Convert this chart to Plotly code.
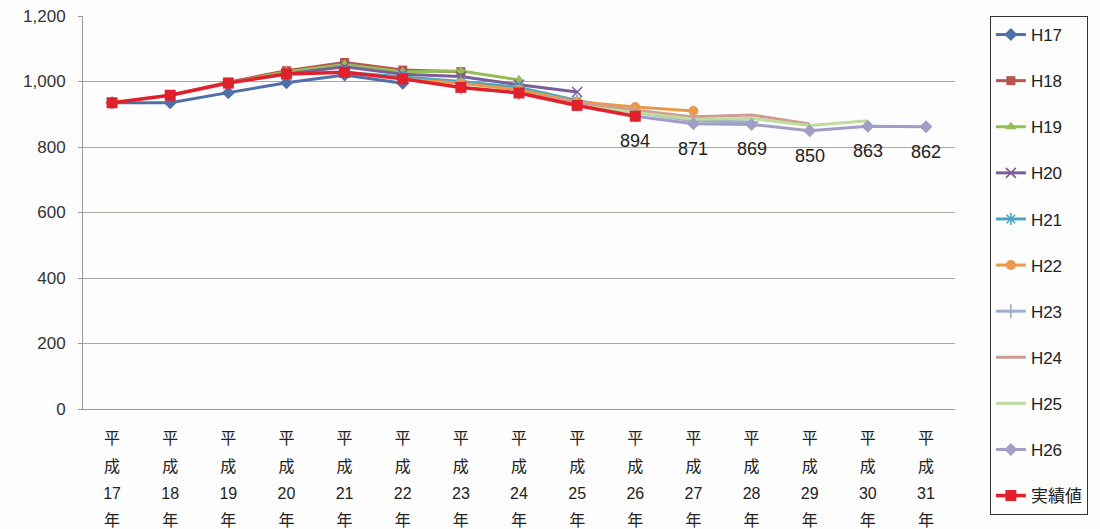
import plotly.graph_objects as go

# 平成17年〜31年 の区分
year_nums = ["17", "18", "19", "20", "21", "22", "23", "24", "25", "26", "27", "28", "29", "30", "31"]
categories = [f"平成{y}年" for y in year_nums]
tick_text = [
    "<span style='font-size:16px'>平</span><br><span style='font-size:16px'>成</span><br>"
    f"<span style='font-size:16px'>{y}</span><br><span style='font-size:16px'>年</span>"
    for y in year_nums
]

# 各年度の推計値（None は推計対象外）
h17 = [935, 935, 966, 996, 1020, 995, None, None, None, None, None, None, None, None, None]
h18 = [None, 958, 998, 1033, 1058, 1035, 1030, None, None, None, None, None, None, None, None]
h19 = [None, None, 995, 1030, 1052, 1030, 1032, 1005, None, None, None, None, None, None, None]
h20 = [None, None, None, 1023, 1045, 1022, 1015, 990, 968, None, None, None, None, None, None]
h21 = [None, None, None, None, 1028, 1015, 1000, 982, 942, 910, None, None, None, None, None]
h22 = [None, None, None, None, None, 1008, 995, 975, 938, 922, 910, None, None, None, None]
h23 = [None, None, None, None, None, None, 982, 965, 935, 905, 880, 876, None, None, None]
h24 = [None, None, None, None, None, None, None, 965, 935, 912, 892, 898, 870, None, None]
h25 = [None, None, None, None, None, None, None, None, 927, 905, 885, 887, 866, 880, None]
h26 = [None, None, None, None, None, None, None, None, None, 894, 871, 869, 850, 863, 862]
actual = [935, 958, 995, 1023, 1028, 1008, 982, 965, 927, 894, None, None, None, None, None]

y_ticks = [0, 200, 400, 600, 800, 1000, 1200]
y_tick_text = ["0", "200", "400", "600", "800", "1,000", "1,200"]

series = [
    ("H17", h17, "#4F6FA8", "diamond", 10, None),
    ("H18", h18, "#B85450", "square", 9, None),
    ("H19", h19, "#92BE55", "triangle-up", 10, None),
    ("H20", h20, "#7A5E99", "x-thin", 10, "#7A5E99"),
    ("H21", h21, "#4AA6C2", "asterisk", 10, "#4AA6C2"),
    ("H22", h22, "#E9994A", "circle", 10, None),
    ("H23", h23, "#9DAECC", "cross-thin", 10, "#9DAECC"),
    ("H24", h24, "#CF9C93", None, 0, None),
    ("H25", h25, "#BEDC9C", None, 0, None),
    ("H26", h26, "#A29DC6", "diamond", 10, None),
]

font_family = "Arial, 'Liberation Sans', 'Noto Sans CJK JP', sans-serif"

fig = go.Figure()
for name, vals, color, symbol, size, open_color in series:
    mode = "lines+markers" if symbol else "lines"
    marker = dict(symbol=symbol or "circle", size=size, color=color)
    if open_color:
        marker["line"] = dict(color=open_color, width=1.6)
    fig.add_trace(go.Scatter(
        x=categories, y=vals, name=name, mode=mode,
        line=dict(color=color, width=3),
        marker=marker, legendgroup=name, connectgaps=False,
    ))

fig.add_trace(go.Scatter(
    x=categories, y=actual, name="実績値", mode="lines+markers",
    line=dict(color="#E0202A", width=3.5),
    marker=dict(symbol="square", size=11, color="#E0202A"),
    legendgroup="actual",
))

# H26 推計値のデータラベル
for x, v in zip(categories, h26):
    if v is None:
        continue
    fig.add_annotation(
        x=x, y=v, text=f"{v}", showarrow=False, yshift=-25,
        font=dict(size=18, color="#222222", family=font_family),
    )

fig.update_layout(
    width=1100, height=529,
    margin=dict(l=83, r=145, t=16, b=120),
    paper_bgcolor="#FDFDFD", plot_bgcolor="#FDFDFD",
    font=dict(family=font_family, size=16, color="#222222"),
    showlegend=True,
    legend=dict(
        x=1.04, y=1.0, xanchor="left", yanchor="top",
        bordercolor="#333333", borderwidth=1, bgcolor="rgba(0,0,0,0)",
        font=dict(size=17, color="#222222"),
        tracegroupgap=21, itemwidth=30, maxheight=525,
    ),
    xaxis=dict(
        type="category", tickmode="array", tickvals=categories, ticktext=tick_text,
        range=[-0.5, len(categories) - 0.5],
        tickfont=dict(size=21, color="#222222"),
        showline=True, linecolor="#9A9A9A", linewidth=1,
        showgrid=False, ticks="", tickangle=0,
        automargin=False, ticklabelstandoff=9,
    ),
    yaxis=dict(
        range=[0, 1200], tickvals=y_ticks, ticktext=y_tick_text,
        tickfont=dict(size=17, color="#333333"),
        showline=True, linecolor="#9A9A9A", linewidth=1,
        gridcolor="#A8A8A0", gridwidth=1,
        ticks="outside", ticklen=4, tickcolor="#9A9A9A",
        ticklabelstandoff=9, zeroline=False, automargin=False,
    ),
)

fig.write_html("out.html")
